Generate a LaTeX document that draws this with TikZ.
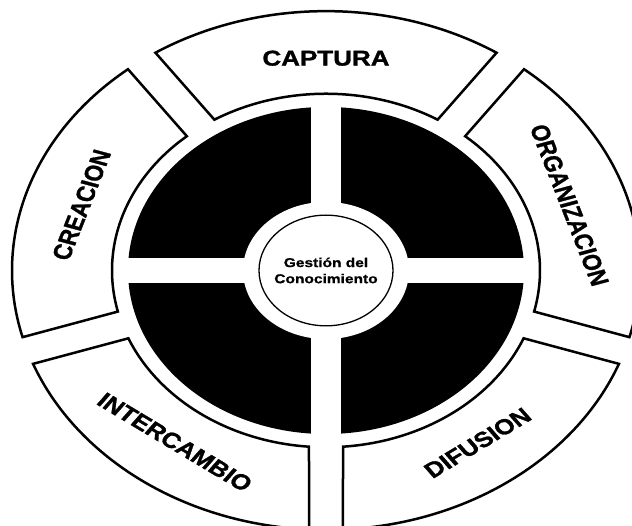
\documentclass[tikz,border=0pt]{standalone}
\usepackage{fontspec}
\setmainfont{Liberation Sans}
\newfontfamily\heavyfont[FakeBold=1.2]{Liberation Sans Bold}
\newfontfamily\hubfont[FakeBold=0.8]{Liberation Sans Bold}
\begin{document}
\begin{tikzpicture}[x=1pt,y=1pt,
  seg/.style={draw=black, line width=2.5pt, fill=white, line join=miter},
  lbl/.style={font=\heavyfont\fontsize{26}{28}\selectfont, inner sep=0pt},
  hub/.style={draw=black, circle, line width=1.3pt, fill=white, minimum size=134pt,
    inner sep=0pt, align=center, font=\hubfont\fontsize{15.5}{19.5}\selectfont}]
\useasboundingbox (0,0) rectangle (632,526);
\clip (0,0) rectangle (632,526);
\fill[white] (0,0) rectangle (632,526);
\begin{scope}[shift={(326,255.5)}, yscale=0.826, transform shape]
  % outer ring segments (constant-width gaps)
  \foreach \c in {90,18,-54,-126,162} {
    \pgfmathsetmacro{\aO}{\c-36+3.10}
    \pgfmathsetmacro{\bO}{\c+36-3.10}
    \pgfmathsetmacro{\aI}{\c-36+4.56}
    \pgfmathsetmacro{\bI}{\c+36-4.56}
    \draw[seg] (\aO:314) arc[start angle=\aO, end angle=\bO, radius=314]
      -- (\bI:214) arc[start angle=\bI, end angle=\aI, radius=214] -- cycle;
  }
  % black disk split by a white cross
  \fill[black] (0,0) circle[radius=198];
  \fill[white] (-15,-200) rectangle (15,200);
  \fill[white] (-200,-15) rectangle (200,15);
  \fill[white] (0,0) circle[radius=83];
  \node[hub] (hub) at (0,0) {Gestión del\\Conocimiento};
  % labels
  \node[lbl] (captura) at (90:257) {CAPTURA};
  \node[lbl, rotate=-72] (organizacion) at (18:256) {ORGANIZACION};
  \node[lbl, rotate=36] (difusion) at (-54:258) {DIFUSION};
  \node[lbl, rotate=-36] (intercambio) at (-126:257) {INTERCAMBIO};
  \node[lbl, rotate=72] (creacion) at (162:257) {CREACION};
\end{scope}
\end{tikzpicture}
\end{document}
